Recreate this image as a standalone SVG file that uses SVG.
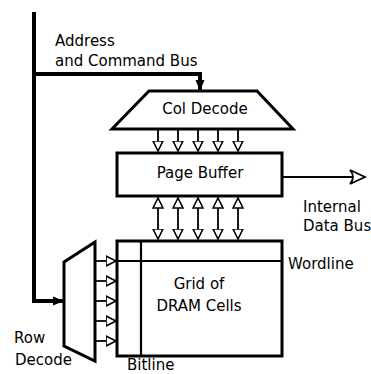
<svg xmlns="http://www.w3.org/2000/svg" width="371" height="374" viewBox="0 0 371 374">
  <defs>
    <style>
      .box { fill: #fff; stroke: #000; stroke-width: 3; stroke-linejoin: miter; }
      .bus { fill: none; stroke: #000; stroke-width: 4; }
      .sig { fill: none; stroke: #000; stroke-width: 1.8; }
      .grid-line { fill: none; stroke: #000; stroke-width: 2.2; }
      .lbl { font-family: "DejaVu Sans", sans-serif; font-size: 15px; fill: #000; }
      .mid { text-anchor: middle; }
    </style>
    <!-- hollow triangle for the signal lines -->
    <marker id="tri" markerUnits="userSpaceOnUse" viewBox="0 0 12 12" refX="10.5" refY="6" markerWidth="12" markerHeight="12" orient="auto-start-reverse">
      <path d="M0.5,1 L10.5,6 L0.5,11 Z" fill="#fff" stroke="#000" stroke-width="1.6" stroke-linejoin="miter"/>
    </marker>
    <!-- solid head for the address / command bus -->
    <marker id="solid" markerUnits="userSpaceOnUse" viewBox="0 0 12 12" refX="11" refY="6" markerWidth="12" markerHeight="12" orient="auto">
      <path d="M0,1.5 L11,6 L0,10.5 Z" fill="#000"/>
    </marker>
    <!-- open swept head for the data bus -->
    <marker id="sweep" markerUnits="userSpaceOnUse" viewBox="0 0 20 20" refX="17" refY="10" markerWidth="20" markerHeight="20" orient="auto">
      <path d="M17,10 L2,3 Q8,10 2,17 Z" fill="#fff" stroke="#000" stroke-width="1.8" stroke-linejoin="miter"/>
    </marker>
  </defs>

  <g id="connectors">
    <!-- address and command bus -->
    <path class="bus" d="M34,12 V74 H200 V80"/>
    <line class="bus" x1="200" y1="74" x2="200" y2="91" marker-end="url(#solid)"/>
    <path class="bus" d="M34,74 V301 H55"/>
    <line class="bus" x1="50" y1="301" x2="64" y2="301" marker-end="url(#solid)"/>

    <!-- column decode to page buffer -->
    <line class="sig" x1="158" y1="129" x2="158" y2="151" marker-end="url(#tri)"/>
    <line class="sig" x1="178" y1="129" x2="178" y2="151" marker-end="url(#tri)"/>
    <line class="sig" x1="198" y1="129" x2="198" y2="151" marker-end="url(#tri)"/>
    <line class="sig" x1="218" y1="129" x2="218" y2="151" marker-end="url(#tri)"/>
    <line class="sig" x1="238" y1="129" x2="238" y2="151" marker-end="url(#tri)"/>

    <!-- page buffer to and from the cell grid -->
    <line class="sig" x1="158" y1="198" x2="158" y2="239" marker-start="url(#tri)" marker-end="url(#tri)"/>
    <line class="sig" x1="178" y1="198" x2="178" y2="239" marker-start="url(#tri)" marker-end="url(#tri)"/>
    <line class="sig" x1="198" y1="198" x2="198" y2="239" marker-start="url(#tri)" marker-end="url(#tri)"/>
    <line class="sig" x1="218" y1="198" x2="218" y2="239" marker-start="url(#tri)" marker-end="url(#tri)"/>
    <line class="sig" x1="238" y1="198" x2="238" y2="239" marker-start="url(#tri)" marker-end="url(#tri)"/>

    <!-- row decode to the cell grid -->
    <line class="sig" x1="95" y1="261" x2="116" y2="261" marker-end="url(#tri)"/>
    <line class="sig" x1="95" y1="281" x2="116" y2="281" marker-end="url(#tri)"/>
    <line class="sig" x1="95" y1="301" x2="116" y2="301" marker-end="url(#tri)"/>
    <line class="sig" x1="95" y1="321" x2="116" y2="321" marker-end="url(#tri)"/>
    <line class="sig" x1="95" y1="341" x2="116" y2="341" marker-end="url(#tri)"/>

    <!-- internal data bus -->
    <line class="sig" x1="283" y1="177" x2="365" y2="177" stroke-width="2.4" marker-end="url(#sweep)"/>
  </g>

  <g id="col-decode">
    <path class="box" d="M149,91 H257 L293,129 H112 Z"/>
    <text class="lbl mid" x="205" y="114">Col Decode</text>
  </g>

  <g id="page-buffer">
    <rect class="box" x="117" y="153" width="165" height="43"/>
    <text class="lbl mid" x="200" y="178">Page Buffer</text>
  </g>

  <g id="row-decode">
    <path class="box" d="M64,262 L95,242 V361 L64,346 Z"/>
    <text class="lbl" x="14" y="343">Row</text>
    <text class="lbl" x="15" y="365">Decode</text>
  </g>

  <g id="cell-grid">
    <rect class="box" x="117" y="241" width="165" height="115"/>
    <line class="grid-line" x1="141" y1="241" x2="141" y2="356"/>
    <line class="grid-line" x1="117" y1="261" x2="282" y2="261"/>
    <text class="lbl mid" x="199" y="289">Grid of</text>
    <text class="lbl mid" x="199" y="311">DRAM Cells</text>
    <text class="lbl" x="288" y="269">Wordline</text>
    <text class="lbl" x="127" y="370">Bitline</text>
  </g>

  <g id="labels">
    <text class="lbl" x="55" y="46">Address</text>
    <text class="lbl" x="55" y="66">and Command Bus</text>
    <text class="lbl" x="303" y="212">Internal</text>
    <text class="lbl" x="303" y="231">Data Bus</text>
  </g>
</svg>
